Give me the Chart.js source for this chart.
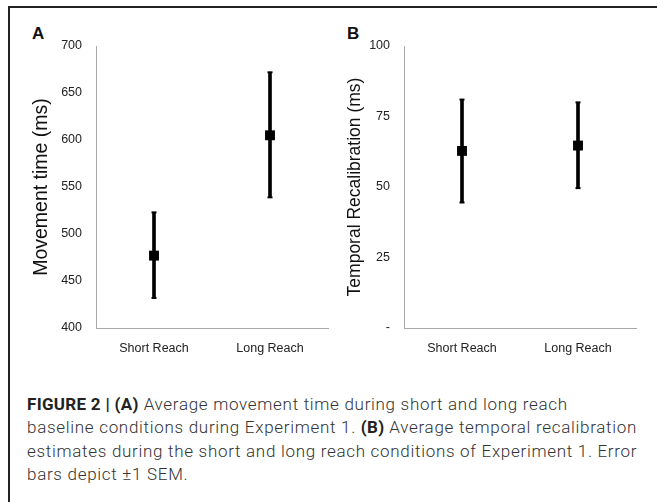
<!DOCTYPE html>
<html>
<head>
<meta charset="utf-8">
<script src="https://cdn.jsdelivr.net/npm/chart.js@4.4.1/dist/chart.umd.min.js"></script>
<style>
  html, body { margin: 0; padding: 0; background: #fff; }
  body { width: 657px; height: 502px; position: relative; overflow: hidden; font-family: "Liberation Sans", Arial, sans-serif; }
  .frame-top { position: absolute; left: 8px; top: 6px; width: 649px; height: 2px; background: #222; }
  .frame-left { position: absolute; left: 8px; top: 6px; width: 2px; height: 496px; background: #222; }
  .panel { position: absolute; top: 20px; height: 345px; }
  .letter { position: absolute; font-weight: bold; font-size: 17px; color: #111; }
  .caption { position: absolute; left: 27px; top: 393px; font-family: Roboto, sans-serif; font-weight: 300; font-size: 17px; letter-spacing: 0.7px; line-height: 23.4px; color: #333; white-space: nowrap; }
  .caption b { font-weight: 700; color: #222; letter-spacing: 0.3px; }
</style>
</head>
<body>
<div class="frame-top"></div>
<div class="frame-left"></div>
<div class="letter" style="left:32px; top:24px;">A</div>
<div class="letter" style="left:347px; top:24px;">B</div>
<div class="panel" style="left:10px; width:325px;"><canvas id="chartA"></canvas></div>
<div class="panel" style="left:318px; width:330px;"><canvas id="chartB"></canvas></div>
<div class="caption">
  <div><b>FIGURE 2 | (A)</b> Average movement time during short and long reach</div>
  <div>baseline conditions during Experiment 1. <b>(B)</b> Average temporal recalibration</div>
  <div>estimates during the short and long reach conditions of Experiment 1. Error</div>
  <div>bars depict ±1 SEM.</div>
</div>
<script>
const categories = ['Short Reach', 'Long Reach'];

// panel A: movement time (ms)
const movementMean = [477, 605];
const movementLow = [432, 539];
const movementHigh = [523, 672];

// panel B: temporal recalibration (ms)
const recalMean = [62.8, 64.7];
const recalLow = [44.5, 49.6];
const recalHigh = [81, 80];

const tickFont = { family: '"Liberation Sans", Arial, sans-serif', size: 12.5 };

function errorChart(id, mean, low, high, yOpts, title, titleSize, titlePad, axisWidth, padRight) {
    const ctx = document.getElementById(id).getContext('2d');
    return new Chart(ctx, {
        type: 'bar',
        data: {
            labels: categories,
            datasets: [
                {
                    type: 'line',
                    data: mean,
                    showLine: false,
                    pointStyle: 'rect',
                    pointRadius: 7,
                    pointBackgroundColor: '#000',
                    pointBorderWidth: 0,
                    order: 0
                },
                {
                    type: 'line',
                    data: high,
                    showLine: false,
                    pointStyle: 'line',
                    pointRadius: 2.5,
                    pointBorderColor: '#000',
                    pointBorderWidth: 2,
                    order: 1
                },
                {
                    type: 'line',
                    data: low,
                    showLine: false,
                    pointStyle: 'line',
                    pointRadius: 2.5,
                    pointBorderColor: '#000',
                    pointBorderWidth: 2,
                    order: 1
                },
                {
                    data: low.map((v, i) => [v, high[i]]),
                    backgroundColor: '#000',
                    barThickness: 3,
                    borderWidth: 0,
                    order: 2
                }
            ]
        },
        options: {
            responsive: true,
            maintainAspectRatio: false,
            animation: false,
            layout: { padding: { top: 26, right: padRight, bottom: 0, left: 0 } },
            plugins: {
                legend: { display: false },
                tooltip: { enabled: false },
                title: { display: false }
            },
            scales: {
                x: {
                    offset: true,
                    grid: { display: false, drawTicks: false },
                    border: { display: true, color: '#a8a8a8', width: 1 },
                    ticks: { color: '#222', font: tickFont, padding: 13 },
                    afterFit: function (scale) { scale.height = 37; }
                },
                y: Object.assign({
                    grid: { display: false, drawTicks: false },
                    border: { display: true, color: '#a8a8a8', width: 1 },
                    title: {
                        display: true,
                        text: title,
                        color: '#111',
                        font: { family: '"Liberation Sans", Arial, sans-serif', size: titleSize },
                        padding: { top: titlePad, bottom: 0 }
                    },
                    afterFit: function (scale) { scale.width = axisWidth; }
                }, yOpts)
            }
        }
    });
}

errorChart('chartA', movementMean, movementLow, movementHigh, {
    min: 400, max: 700,
    ticks: { stepSize: 50, color: '#222', font: tickFont, padding: 14 }
}, 'Movement time (ms)', 19.5, 20.3, 86, 5);

errorChart('chartB', recalMean, recalLow, recalHigh, {
    min: 0, max: 100,
    ticks: {
        stepSize: 25, color: '#222', font: tickFont, padding: 14,
        callback: function (v) { return v === 0 ? '-' : v; }
    }
}, 'Temporal Recalibration (ms)', 17.5, 26.5, 86, 12);
</script>
</body>
</html>
